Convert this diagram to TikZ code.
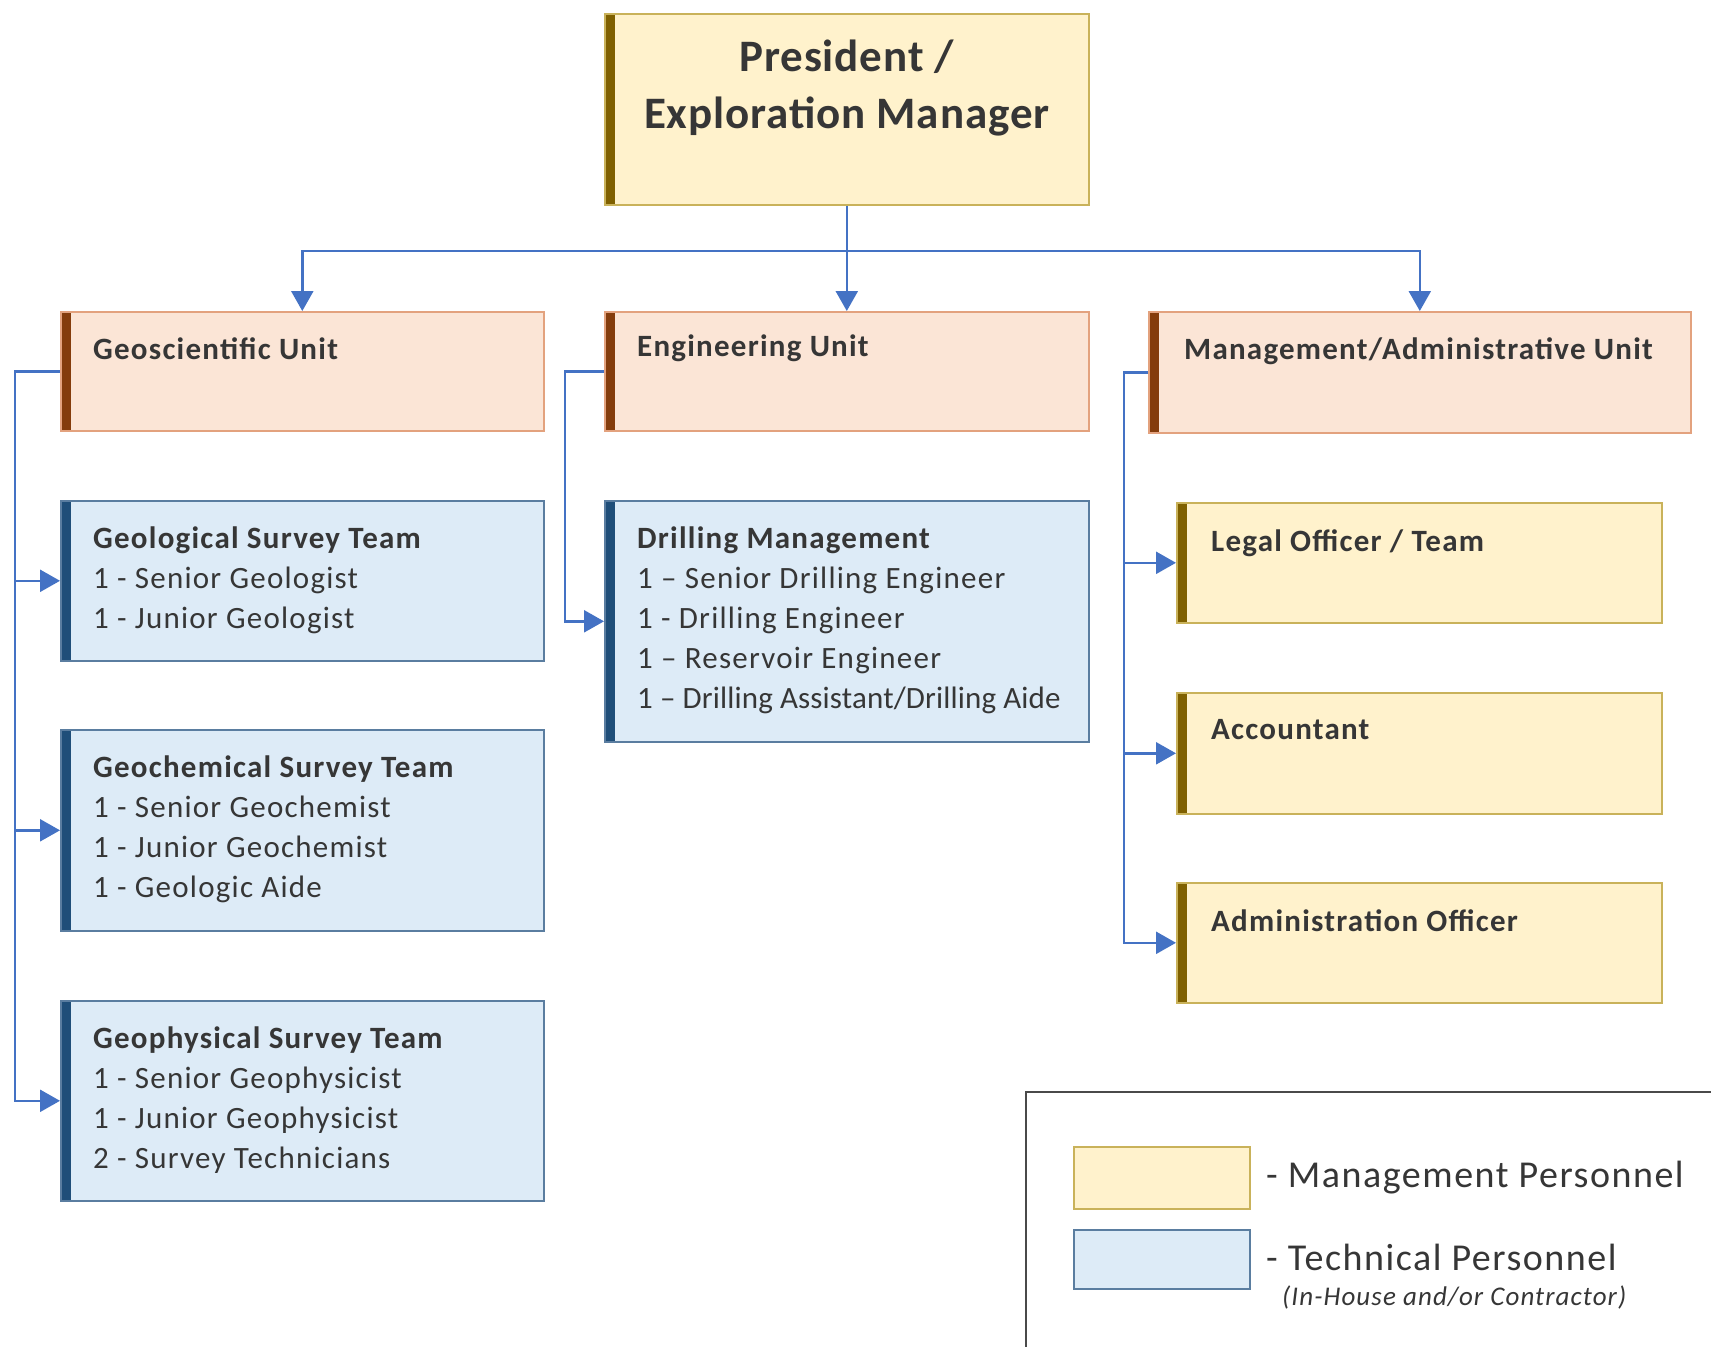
\documentclass[tikz,border=0pt]{standalone}
\usepackage{fontspec}
\setmainfont{Carlito}[LetterSpace=4]
\newfontfamily\presfont{Carlito}[LetterSpace=2]
\newfontfamily\tightfont{Carlito}[LetterSpace=0.5]
\usetikzlibrary{arrows.meta,calc}
\definecolor{myel}{HTML}{FFF2CC}
\definecolor{mborder}{HTML}{C9B25A}
\definecolor{mbar}{HTML}{7F6000}
\definecolor{ufill}{HTML}{FBE5D6}
\definecolor{uborder}{HTML}{E3A27E}
\definecolor{ubar}{HTML}{843C0C}
\definecolor{tfill}{HTML}{DDEBF7}
\definecolor{tborder}{HTML}{5A7DA0}
\definecolor{tbar}{HTML}{1F4E79}
\definecolor{conncol}{HTML}{4472C4}
\definecolor{txtcol}{HTML}{363636}
\definecolor{legcol}{HTML}{4A4A4A}
\tikzset{
  box/.style={line width=1.6pt, anchor=north west, inner sep=0pt},
  mbox/.style={box, draw=mborder, fill=myel,
    path picture={\fill[mbar] (path picture bounding box.north west) rectangle ([xshift=10pt]path picture bounding box.south west);}},
  ubox/.style={box, draw=uborder, fill=ufill,
    path picture={\fill[ubar] (path picture bounding box.north west) rectangle ([xshift=10pt]path picture bounding box.south west);}},
  tbox/.style={box, draw=tborder, fill=tfill,
    path picture={\fill[tbar] (path picture bounding box.north west) rectangle ([xshift=10pt]path picture bounding box.south west);}},
  txt/.style={anchor=north west, align=left, inner sep=0pt, text=txtcol,
    font=\fontsize{31}{40}\selectfont},
  conn/.style={draw=conncol, line width=2.4pt, -{Triangle[length=20pt,width=22pt]}},
  legtxt/.style={anchor=base west, inner sep=0pt, text=txtcol, font=\fontsize{38}{44}\selectfont},
}
\begin{document}
\begin{tikzpicture}[x=1pt,y=-1pt]
\useasboundingbox[fill=white] (0,0) rectangle (1711,1347);

% boxes
\node[mbox, minimum width=484pt, minimum height=191pt] (pres) at (604,13) {};
\node[ubox, minimum width=483pt, minimum height=119pt] (geo) at (60,311) {};
\node[ubox, minimum width=484pt, minimum height=119pt] (eng) at (604,311) {};
\node[ubox, minimum width=542pt, minimum height=121pt] (mgmt) at (1148,311) {};
\node[tbox, minimum width=483pt, minimum height=160pt] (geol) at (60,500) {};
\node[tbox, minimum width=483pt, minimum height=201pt] (geoc) at (60,729) {};
\node[tbox, minimum width=483pt, minimum height=200pt] (geop) at (60,1000) {};
\node[tbox, minimum width=484pt, minimum height=241pt] (drill) at (604,500) {};
\node[mbox, minimum width=485pt, minimum height=120pt] (legal) at (1176,502) {};
\node[mbox, minimum width=485pt, minimum height=121pt] (acct) at (1176,692) {};
\node[mbox, minimum width=485pt, minimum height=120pt] (adm) at (1176,882) {};

% texts
\node[anchor=north, align=center, inner sep=0pt, text=txtcol, font=\presfont\fontsize{45}{57}\selectfont\bfseries]
  (prest) at ([yshift=-27pt]pres.north) {President /\\Exploration Manager};
\node[txt, font=\fontsize{31}{40}\selectfont\bfseries] (geot) at ([xshift=33pt,yshift=-26pt]geo.north west) {Geoscientific Unit};
\node[txt, font=\fontsize{31}{40}\selectfont\bfseries] (engt) at ([xshift=33pt,yshift=-24pt]eng.north west) {Engineering Unit};
\node[txt, font=\fontsize{31}{40}\selectfont\bfseries] (mgmtt) at ([xshift=36pt,yshift=-26pt]mgmt.north west) {Management/Administrative Unit};
\node[txt] (geolt) at ([xshift=33pt,yshift=-27pt]geol.north west)
  {\textbf{Geological Survey Team}\\1 - Senior Geologist\\1 - Junior Geologist};
\node[txt] (geoct) at ([xshift=33pt,yshift=-27pt]geoc.north west)
  {\textbf{Geochemical Survey Team}\\1 - Senior Geochemist\\1 - Junior Geochemist\\1 - Geologic Aide};
\node[txt] (geopt) at ([xshift=33pt,yshift=-27pt]geop.north west)
  {\textbf{Geophysical Survey Team}\\1 - Senior Geophysicist\\1 - Junior Geophysicist\\2 - Survey Technicians};
\node[txt] (drillt) at ([xshift=33pt,yshift=-27pt]drill.north west)
  {\textbf{Drilling Management}\\1 – Senior Drilling Engineer\\1 - Drilling Engineer\\1 – Reservoir Engineer\\{\tightfont 1 – Drilling Assistant/Drilling Aide}};
\node[txt, font=\fontsize{31}{40}\selectfont\bfseries] (legalt) at ([xshift=35pt,yshift=-27pt]legal.north west) {Legal Officer / Team};
\node[txt, font=\fontsize{31}{40}\selectfont\bfseries] (acctt) at ([xshift=35pt,yshift=-27pt]acct.north west) {Accountant};
\node[txt, font=\fontsize{31}{40}\selectfont\bfseries] (admt) at ([xshift=35pt,yshift=-27pt]adm.north west) {Administration Officer};

% connectors
\coordinate (bus) at (pres.south |- 0,251);
\draw[conn] (pres.south) -- (eng.north);
\draw[conn] (bus) -| (geo.north);
\draw[conn] (bus) -| (mgmt.north);

\coordinate (gtrunk) at (15,0);
\draw[conn] (geo.west) -- (gtrunk |- geo.west) |- (geop.west);
\draw[conn] (gtrunk |- geol.west) -- (geol.west);
\draw[conn] (gtrunk |- geoc.west) -- (geoc.west);

\coordinate (etrunk) at (565,0);
\draw[conn] (eng.west) -- (etrunk |- eng.west) |- (drill.west);

\coordinate (mtrunk) at (1124,0);
\draw[conn] (mgmt.west) -- (mtrunk |- mgmt.west) |- (adm.west);
\draw[conn] (mtrunk |- legal.west) -- (legal.west);
\draw[conn] (mtrunk |- acct.west) -- (acct.west);

% legend
\draw[legcol, line width=2.2pt] (1711,1092) -- (1026,1092) -- (1026,1347);
\node[box, draw=mborder, fill=myel, minimum width=176pt, minimum height=62pt] (legm) at (1073,1146) {};
\node[box, draw=tborder, fill=tfill, minimum width=176pt, minimum height=59pt] (legt) at (1073,1229) {};
\node[legtxt] (legmt) at (1266,1187) {- Management Personnel};
\node[legtxt] (legtt) at (1266,1270) {- Technical Personnel};
\node[anchor=base west, inner sep=0pt, text=txtcol, font=\fontsize{27}{31}\selectfont\itshape] (legnote) at (1282,1305) {(In-House and/or Contractor)};
\end{tikzpicture}
\end{document}
